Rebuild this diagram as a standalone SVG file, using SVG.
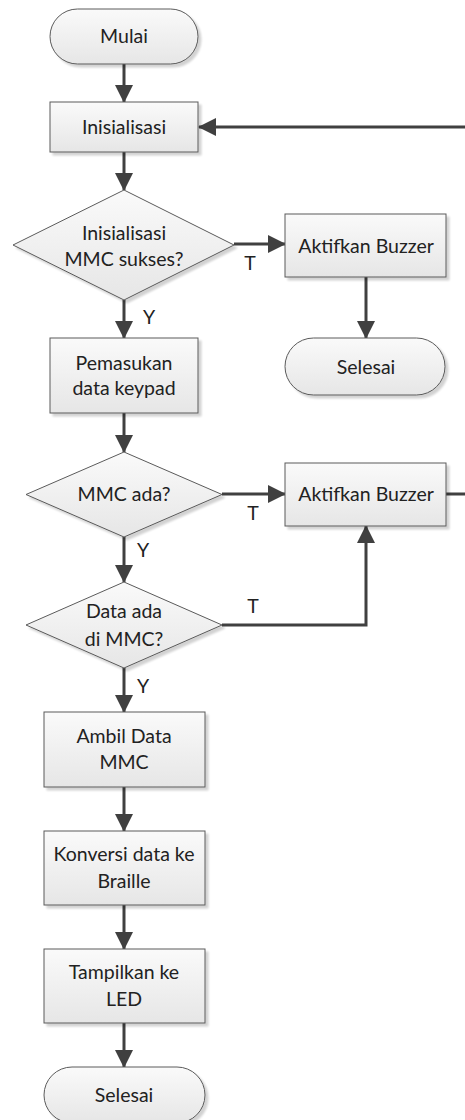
<svg xmlns="http://www.w3.org/2000/svg" width="465" height="1120" viewBox="0 0 465 1120">
  <defs>
    <linearGradient id="fillGrad" x1="0" y1="0" x2="0" y2="1">
      <stop offset="0" stop-color="#fafafa"/>
      <stop offset="1" stop-color="#e6e6e6"/>
    </linearGradient>
    <filter id="shadow" x="-10%" y="-10%" width="130%" height="130%">
      <feGaussianBlur in="SourceAlpha" stdDeviation="1.2"/>
      <feOffset dx="3" dy="3" result="off"/>
      <feComponentTransfer><feFuncA type="linear" slope="0.18"/></feComponentTransfer>
      <feMerge><feMergeNode/><feMergeNode in="SourceGraphic"/></feMerge>
    </filter>
    <marker id="arrow" viewBox="0 0 18 18" refX="17" refY="9" markerWidth="18" markerHeight="18" markerUnits="userSpaceOnUse" orient="auto">
      <path d="M0,0 L18,9 L0,18 Z" fill="#404040"/>
    </marker>
  </defs>
  <style>
    .shape { fill: url(#fillGrad); stroke: #5a5a5a; stroke-width: 1; filter: url(#shadow); }
    .label { font-family: Lato, "Open Sans", "Liberation Sans", sans-serif; font-size: 19.5px; fill: #222222; text-anchor: middle; }
    .edge { fill: none; stroke: #404040; stroke-width: 3; }
    .arrow { marker-end: url(#arrow); }
  </style>
  <rect width="465" height="1120" fill="#ffffff"/>

  <!-- connectors -->
  <g id="connectors">
    <path class="edge arrow" d="M124,64 V102"/>
    <path class="edge arrow" d="M124,152 V190"/>
    <path class="edge arrow" d="M234,244 H285"/>
    <path class="edge arrow" d="M366,277 V338"/>
    <path class="edge arrow" d="M124,300 V338"/>
    <path class="edge arrow" d="M124,413 V452"/>
    <path class="edge arrow" d="M222,494 H285"/>
    <path class="edge arrow" d="M446,494 H472 V127 H199"/>
    <path class="edge arrow" d="M124,537 V582"/>
    <path class="edge arrow" d="M222,625 H366 V526"/>
    <path class="edge arrow" d="M124,668 V712"/>
    <path class="edge arrow" d="M124,787 V831"/>
    <path class="edge arrow" d="M124,905 V949"/>
    <path class="edge arrow" d="M124,1023 V1067"/>
    <text class="label" x="250" y="270">T</text>
    <text class="label" x="149" y="324">Y</text>
    <text class="label" x="253" y="520">T</text>
    <text class="label" x="143" y="557">Y</text>
    <text class="label" x="253" y="613">T</text>
    <text class="label" x="143" y="693">Y</text>
  </g>

  <g id="mulai">
    <rect class="shape" x="50" y="9" width="148" height="55" rx="27.5" ry="27.5"/>
    <text class="label" x="124" y="43">Mulai</text>
  </g>

  <g id="inisialisasi">
    <rect class="shape" x="50" y="102" width="148" height="50"/>
    <text class="label" x="124" y="134">Inisialisasi</text>
  </g>

  <g id="cek-mmc-init">
    <polygon class="shape" points="124,190 234,245 124,300 13,245"/>
    <text class="label" x="124" y="240">Inisialisasi</text>
    <text class="label" x="124" y="266">MMC sukses?</text>
  </g>

  <g id="buzzer-1">
    <rect class="shape" x="285" y="214" width="161" height="63"/>
    <text class="label" x="366" y="253">Aktifkan Buzzer</text>
  </g>

  <g id="selesai-1">
    <rect class="shape" x="285" y="338" width="160" height="57" rx="28.5" ry="28.5"/>
    <text class="label" x="366" y="374">Selesai</text>
  </g>

  <g id="pemasukan">
    <rect class="shape" x="50" y="338" width="148" height="75"/>
    <text class="label" x="124" y="370">Pemasukan</text>
    <text class="label" x="124" y="395">data keypad</text>
  </g>

  <g id="cek-mmc-ada">
    <polygon class="shape" points="124,452 222,494.5 124,537 26,494.5"/>
    <text class="label" x="124" y="501">MMC ada?</text>
  </g>

  <g id="buzzer-2">
    <rect class="shape" x="285" y="463" width="161" height="63"/>
    <text class="label" x="366" y="501">Aktifkan Buzzer</text>
  </g>

  <g id="cek-data">
    <polygon class="shape" points="124,582 222,625 124,668 26,625"/>
    <text class="label" x="124" y="618">Data ada</text>
    <text class="label" x="124" y="646">di MMC?</text>
  </g>

  <g id="ambil-data">
    <rect class="shape" x="44" y="712" width="161" height="75"/>
    <text class="label" x="124" y="743">Ambil Data</text>
    <text class="label" x="124" y="769">MMC</text>
  </g>

  <g id="konversi">
    <rect class="shape" x="44" y="831" width="161" height="74"/>
    <text class="label" x="124" y="861">Konversi data ke</text>
    <text class="label" x="124" y="888">Braille</text>
  </g>

  <g id="tampilkan">
    <rect class="shape" x="44" y="949" width="161" height="74"/>
    <text class="label" x="124" y="979">Tampilkan ke</text>
    <text class="label" x="124" y="1006">LED</text>
  </g>

  <g id="selesai-2">
    <rect class="shape" x="44" y="1067" width="161" height="56" rx="28" ry="28"/>
    <text class="label" x="124" y="1102">Selesai</text>
  </g>
</svg>
